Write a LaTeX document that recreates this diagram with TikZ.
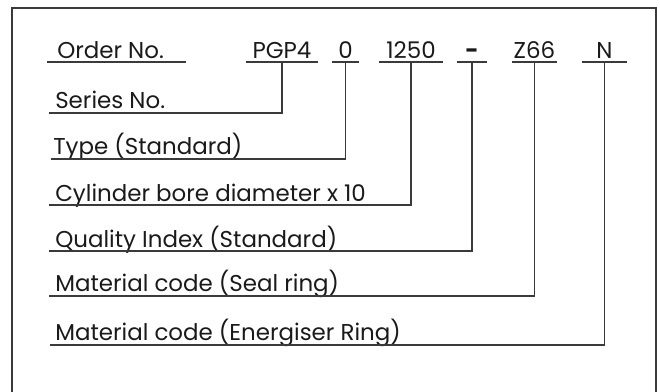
\documentclass[tikz,border=0pt]{standalone}
\usepackage{fontspec}
\usepackage{xcolor}
\newfontfamily\ordfont{Poppins}
\definecolor{ORLine}{HTML}{3A3A3A}
\definecolor{ORText}{HTML}{1A1A1A}
\tikzset{
  lbl/.style={anchor=base west,inner sep=0pt,text=ORText,font=\ordfont\fontsize{17.2}{19}\selectfont},
  code/.style={anchor=south,inner xsep=0pt,inner ysep=2.25pt,text=ORText,font=\ordfont\fontsize{17.2}{19}\selectfont},
  rule/.style={ORLine,line width=0.8pt}
}
\begin{document}
\begin{tikzpicture}[x=0.75pt,y=-0.75pt]
\path[use as bounding box] (0,0) rectangle (660,392);
\draw[ORLine,line width=0.8pt] (12,392) -- (12,8) -- (656,8) -- (656,392);
% order code
\node[lbl] (order) at (57,59) {Order No.};
\draw[rule] ([xshift=-7.5pt,yshift=-2.25pt]order.base west) -- (186,62);
\node[code,minimum width=54pt] (pgp) at (282,62) {PGP4};
\node[code,minimum width=20.25pt] (zero) at (345.5,62) {0};
\node[code,minimum width=48pt] (bore) at (411,62) {1250};
\node[code,minimum width=22.5pt,font=\ordfont\bfseries\fontsize{17.2}{19}\selectfont] (dash) at (472,62) {-};
\node[code,minimum width=33.75pt] (mat) at (534.5,62) {Z66};
\node[code,minimum width=33.75pt] (ener) at (604.5,62) {N};
\draw[rule] (pgp.south west) -- (pgp.south east);
\draw[rule] (zero.south west) -- (zero.south east);
\draw[rule] (bore.south west) -- (bore.south east);
\draw[rule] (dash.south west) -- (dash.south east);
\draw[rule] (mat.south west) -- (mat.south east);
\draw[rule] (ener.south west) -- (ener.south east);
% explanations
\node[lbl] (series) at (55,109) {Series No.};
\node[lbl] (type) at (53,155) {Type (Standard)};
\node[lbl] (cyl) at (55,201) {Cylinder bore diameter x 10};
\node[lbl] (qual) at (55,247) {Quality Index (Standard)};
\node[lbl] (seal) at (55,291) {Material code (Seal ring)};
\node[lbl] (ring) at (55,340) {Material code (Energiser Ring)};
\draw[rule] (pgp.south) |- ([xshift=-4.5pt,yshift=-3pt]series.base west);
\draw[rule] (zero.south) |- ([xshift=-1.5pt,yshift=-3pt]type.base west);
\draw[rule] (bore.south) |- ([xshift=-4.5pt,yshift=-3pt]cyl.base west);
\draw[rule] (dash.south) |- ([xshift=-4.5pt,yshift=-3pt]qual.base west);
\draw[rule] (mat.south) |- ([xshift=-4.5pt,yshift=-3.75pt]seal.base west);
\draw[rule] (ener.south) |- ([xshift=-3.75pt,yshift=-3.75pt]ring.base west);
\end{tikzpicture}
\end{document}
